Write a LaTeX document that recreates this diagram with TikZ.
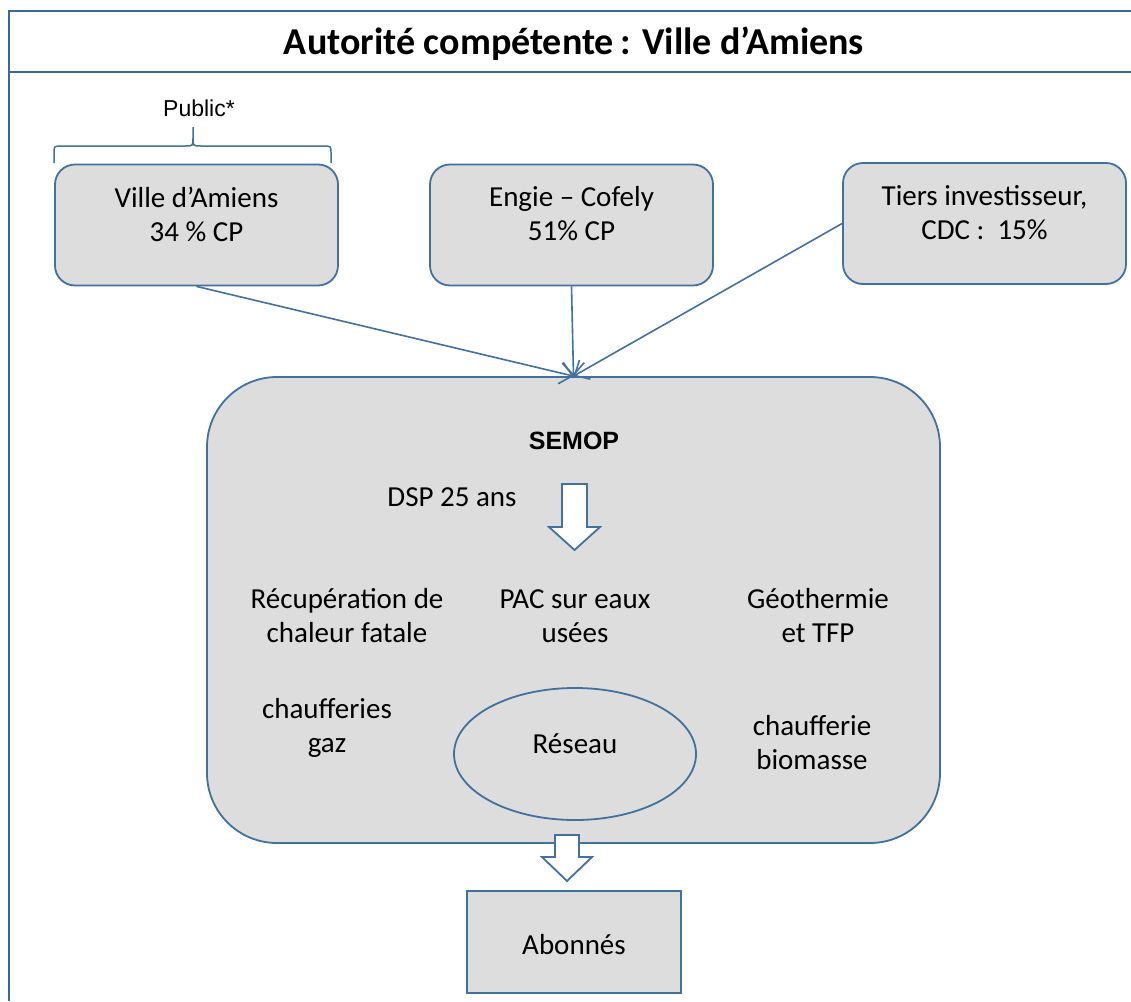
\documentclass[tikz,border=0pt]{standalone}
\usepackage{fontspec}
\setmainfont{Carlito}
\newfontfamily\arialf{Liberation Sans}
\usetikzlibrary{arrows.meta,shapes.geometric,calc}
\definecolor{edge}{RGB}{65,113,156}
\definecolor{frameblue}{RGB}{58,104,152}
\definecolor{boxfill}{RGB}{221,221,221}
\tikzset{
  rbox/.style={draw=edge,line width=1.8pt,fill=boxfill,rounded corners=20pt,
    minimum width=283pt,minimum height=121pt,inner sep=0pt},
  txt/.style={font=\fontsize{29}{34}\selectfont,align=center,inner sep=0pt},
  arr/.style={draw=edge,line width=1.6pt,-{Straight Barb[length=12pt,width=22pt,line width=1.6pt]}},
  blockarrow/.style={draw=edge,line width=1.8pt,fill=white,line join=miter},
  framelines/.style={draw=frameblue,line width=2.5pt}
}
\begin{document}
\begin{tikzpicture}[x=1pt,y=-1pt]
\useasboundingbox (0,0) rectangle (1131,1001);
\fill[white] (0,0) rectangle (1131,1001);

% outer frame and title bar
\draw[framelines] (1131,11) -- (9,11) -- (9,1001);
\draw[framelines] (9,72) -- (1131,72);
\node[font=\bfseries\fontsize{38}{44}\selectfont,inner sep=0pt] (title) at (574,44) {Autorité compétente\,: Ville d’Amiens};

% shareholders
\node[font=\arialf\fontsize{23}{28}\selectfont,inner sep=0pt] (public) at (199,108) {Public*};
\draw[draw=edge,line width=1.5pt] (54,163) -- (54,153) .. controls (54,146) .. (62,146)
  -- (185,146) .. controls (193,146) .. (193,138) -- (193,127)
  (193,138) .. controls (193,146) .. (201,146) -- (323,146) .. controls (331,146) .. (331,153) -- (331,163);

\node[rbox] (b1) at (196.5,225) {};
\node[txt] (t1) at (196.5,214) {Ville d’Amiens\\34 \% CP};
\node[rbox] (b2) at (571.5,225) {};
\node[txt] (t2) at (571.5,214) {Engie – Cofely\\51\% CP};
\node[rbox] (b3) at (984.5,223.5) {};
\node[txt] (t3) at (984.5,213) {Tiers investisseur,\\CDC :~~15\%};

% SEMOP
\node[draw=edge,line width=1.8pt,fill=boxfill,rounded corners=70pt,
  minimum width=733pt,minimum height=466pt,inner sep=0pt] (semop) at (573.5,610) {};
\node[font=\arialf\bfseries\fontsize{25}{30}\selectfont,inner sep=0pt] (semoplbl) at (574,441) {SEMOP};
\node[txt] (dsp) at (452,497) {DSP 25 ans};
\draw[blockarrow] (562,484) -- (587,484) -- (587,527) -- (600,527) -- (574.5,550) -- (549,527) -- (562,527) -- cycle;

\draw[arr] (b1.south) -- (semop.north);
\draw[arr] (b2.south) -- (semop.north);
\draw[arr] (b3.west) -- (semop.north);

\node[txt] (recup) at (347,616) {Récupération de\\chaleur fatale};
\node[txt] (pac) at (575,616) {PAC sur eaux\\usées};
\node[txt] (geo) at (818,616) {Géothermie\\et TFP};
\node[txt] (gaz) at (327,728) {chaufferies\\gaz};
\node[txt] (bio) at (812,743) {chaufferie\\biomasse};

\node[draw=edge,line width=1.8pt,ellipse,minimum width=242pt,minimum height=132pt,inner sep=0pt] (reseau) at (575,754) {};
\node[txt] (reseaulbl) at (575,744) {Réseau};

% subscribers
\draw[blockarrow] (555,835) -- (579,835) -- (579,857) -- (592,857) -- (567,881) -- (542,857) -- (555,857) -- cycle;
\node[draw=edge,line width=1.8pt,fill=boxfill,minimum width=214pt,minimum height=102pt,inner sep=0pt] (abonnes) at (574,942) {};
\node[txt] (abonneslbl) at (574,945) {Abonnés};
\end{tikzpicture}
\end{document}
